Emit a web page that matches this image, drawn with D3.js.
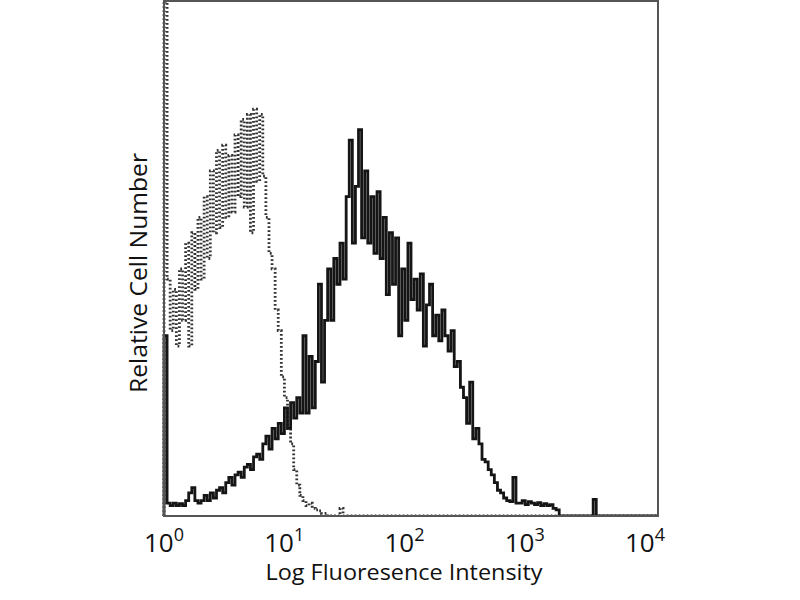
<!DOCTYPE html>
<html>
<head>
<meta charset="utf-8">
<script src="https://cdn.jsdelivr.net/npm/d3@7"></script>
<style>
  html, body { margin: 0; padding: 0; background: #fff; }
  svg { display: block; font-family: "Open Sans", "DejaVu Sans", sans-serif; }
</style>
</head>
<body>
<svg id="chart" width="800" height="600"></svg>
<script>
// Histogram channels: each bin is 0.025 decade wide, starting at 10^0
const binWidthDecades = 0.025;
const decadeTicks = [0, 1, 2, 3, 4];
const xTitle = "Log Fluoresence Intensity";
const yTitle = "Relative Cell Number";

// Stained sample (solid black) - relative counts per bin
const stained = [
  35, 2.5, 2, 2.5, 2, 2.4, 2, 3, 4.5, 5.5,
  3, 2.5, 3, 4, 3, 4.5, 3.5, 5, 5.5, 4.5,
  6.5, 7.5, 6, 8, 8.5, 7.5, 9.5, 10, 9, 11.5,
  12, 11, 14, 15.5, 13, 17, 15, 18, 16, 21,
  17, 22, 19, 23, 20, 35, 20, 31, 21, 30,
  45, 26, 38, 48, 38, 50, 45, 53, 46, 62,
  73, 53, 64, 75, 54, 67, 53, 62, 51, 63,
  50, 58, 43, 55, 45, 54, 35, 48, 38, 53,
  42, 46, 40, 47, 33, 41, 45, 35, 39, 34,
  40, 35, 32, 36, 29, 30, 25, 23, 18, 26,
  15, 17, 14, 11, 10.5, 9, 8, 6.5, 5, 4.5,
  3.5, 3, 2.8, 7.5, 2.5, 2.5, 3, 2.2, 2.8, 2.5,
  2.2, 2.6, 2, 2.4, 2, 2.2, 1.5, 1.2, 0, 0,
  0, 0, 0, 0, 0, 0, 0, 0, 0, 3.2,
  0, 0, 0, 0, 0, 0, 0, 0, 0, 0,
  0, 0, 0, 0, 0, 0, 0, 0, 0, 0
];

// Unstained control (dotted) - relative counts per bin
const control = [
  100, 46, 36, 44, 33, 48, 38, 53, 33, 55,
  44, 58, 46, 62, 50, 67, 55, 71, 56, 72,
  58, 70, 59, 74, 62, 77, 60, 78, 55, 79,
  65, 78, 66, 58, 51, 48, 40, 36, 27, 23,
  17, 14, 9, 6, 4, 3, 2, 2.5, 1.5, 1.2,
  1, 0.5, 0.5, 0, 0, 0, 0, 1.5, 0, 0,
  0, 0, 0, 0, 0, 0, 0, 0, 0, 0,
  0, 0, 0, 0, 0, 0, 0, 0, 0, 0,
  0, 0, 0, 0, 0, 0, 0, 0, 0, 0,
  0, 0, 0, 0, 0, 0, 0, 0, 0, 0,
  0, 0, 0, 0, 0, 0, 0, 0, 0, 0,
  0, 0, 0, 0, 0, 0, 0, 0, 0, 0,
  0, 0, 0, 0, 0, 0, 0, 0, 0, 0,
  0, 0, 0, 0, 0, 0, 0, 0, 0, 0,
  0, 0, 0, 0, 0, 0, 0, 0, 0, 0,
  0, 0, 0, 0, 0, 0, 0, 0, 0, 0
];

const svg = d3.select("#chart");
const plotLeft = 164, plotRight = 658, plotTop = 1, plotBottom = 516;

const x = d3.scaleLog().domain([1, 1e4]).range([plotLeft, plotRight]);
const y = d3.scaleLinear().domain([0, 100]).range([plotBottom, plotTop]);
// label positions (labels in reference sit slightly left of the ticks)
const xLabel = d3.scaleLog().domain([1, 1e4]).range([plotLeft, 645]);

function stepPoints(values) {
  const pts = [[1, 0]];
  values.forEach((v, i) => pts.push([Math.pow(10, i * binWidthDecades), v]));
  pts.push([Math.pow(10, values.length * binWidthDecades), values[values.length - 1]]);
  return pts;
}

const line = d3.line()
  .x(d => x(Math.min(d[0], 1e4)))
  .y(d => y(d[1]))
  .curve(d3.curveStepAfter);

svg.append("defs").append("clipPath").attr("id", "clip")
  .append("rect").attr("x", plotLeft - 2).attr("y", plotTop - 1)
  .attr("width", plotRight - plotLeft + 4).attr("height", plotBottom - plotTop + 2);

const g = svg.append("g").attr("clip-path", "url(#clip)");

// frame
svg.append("rect")
  .attr("x", plotLeft).attr("y", plotTop)
  .attr("width", plotRight - plotLeft).attr("height", plotBottom - plotTop)
  .attr("fill", "none").attr("stroke", "#555").attr("stroke-width", 2);

g.append("path")
  .datum(stepPoints(control))
  .attr("d", line)
  .attr("fill", "none")
  .attr("stroke", "#333")
  .attr("stroke-width", 2.8)
  .attr("stroke-dasharray", "1.8,2.2");

g.append("path")
  .datum(stepPoints(stained))
  .attr("d", line)
  .attr("fill", "none")
  .attr("stroke", "#151515")
  .attr("stroke-width", 2.8)
  .attr("stroke-linejoin", "miter");

// tick labels 10^k
const labels = svg.append("g").attr("fill", "#111");
decadeTicks.forEach(k => {
  const t = labels.append("text")
    .attr("x", xLabel(Math.pow(10, k)))
    .attr("y", 552)
    .attr("text-anchor", "middle")
    .attr("font-size", 26);
  t.append("tspan").text("10");
  t.append("tspan").attr("dy", -11).attr("font-size", 18).text(String(k));
});

svg.append("text")
  .attr("x", 404).attr("y", 580)
  .attr("text-anchor", "middle")
  .attr("font-size", 21)
  .attr("textLength", 277)
  .attr("lengthAdjust", "spacingAndGlyphs")
  .attr("fill", "#111")
  .text(xTitle);

svg.append("text")
  .attr("transform", "translate(147,273) rotate(-90)")
  .attr("text-anchor", "middle")
  .attr("font-size", 23)
  .attr("textLength", 240)
  .attr("lengthAdjust", "spacingAndGlyphs")
  .attr("fill", "#111")
  .text(yTitle);
</script>
</body>
</html>
